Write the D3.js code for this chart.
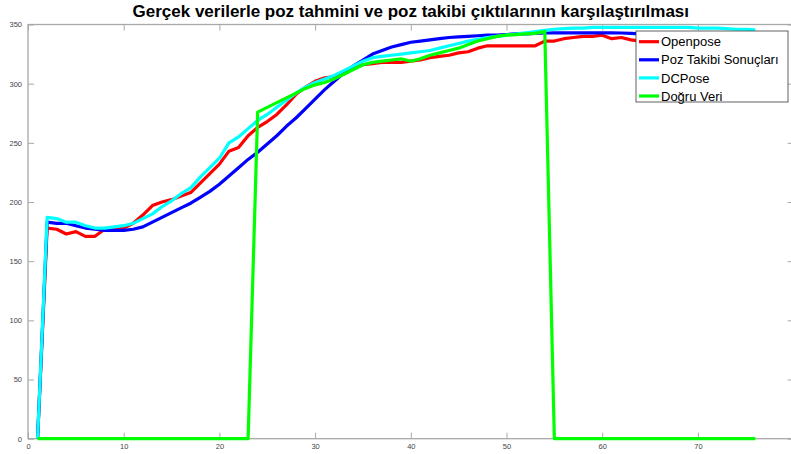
<!DOCTYPE html>
<html>
<head>
<meta charset="utf-8">
<script src="https://cdn.jsdelivr.net/npm/d3@7/dist/d3.min.js"></script>
<style>
  html, body { margin: 0; padding: 0; background: #fff; }
  svg { display: block; font-family: "Liberation Sans", Arial, sans-serif; }
</style>
</head>
<body>
<svg id="chart" width="791" height="454"></svg>
<script>
// Frame numbers (x axis)
const frames = [
  1, 2, 3, 4, 5, 6, 7, 8, 9, 10, 11, 12, 13, 14, 15, 16, 17, 18, 19, 20,
  21, 22, 23, 24, 25, 26, 27, 28, 29, 30, 31, 32, 33, 34, 35, 36, 37, 38, 39, 40,
  41, 42, 43, 44, 45, 46, 47, 48, 49, 50, 51, 52, 53, 54, 55, 56, 57, 58, 59, 60,
  61, 62, 63, 64, 65, 66, 67, 68, 69, 70, 71, 72, 73, 74, 75, 76
];

// Openpose estimates
const openpose = [
  0, 178, 177, 173, 175, 171, 171, 177, 177, 178, 182, 189, 197, 200, 202, 205, 208, 216, 224, 232,
  243, 246, 256, 263, 268, 274, 282, 291, 297, 302, 305, 306, 308, 313, 316, 317, 318, 318, 318, 319,
  320, 322, 323, 324, 326, 327, 330, 332, 332, 332, 332, 332, 332, 336, 336, 338, 339, 340, 340, 341,
  338, 339, 337, 336, 337, 338, 338, 337, 338, 338, 337, 338, 338, 337, 338, 338
];

// Pose tracking results
const tracking = [
  0, 183, 182, 182, 180, 178, 177, 176, 176, 176, 177, 179, 183, 187, 191, 195, 199, 204, 209, 215,
  222, 229, 236, 242, 249, 256, 264, 271, 279, 287, 295, 302, 309, 315, 320, 325, 328, 331, 333, 335,
  336, 337, 338, 339, 339.5, 340, 340.5, 341, 341, 341.5, 342, 342, 342.5, 342.8, 343, 343, 343, 343, 343, 343,
  343, 342.8, 342.5, 342, 342, 342, 341.5, 341.5, 341, 341, 341, 341, 340.5, 340.5, 340, 340
];

// DCPose estimates
const dcpose = [
  0, 187, 186, 183, 183, 180, 178, 178, 179, 180, 182, 186, 190, 196, 201, 207, 212, 221, 229, 237,
  250, 255, 262, 269, 274, 280, 286, 292, 297, 301, 304, 307, 311, 315, 319, 322, 323, 324, 325, 326,
  327, 328, 330, 332, 334, 336, 337.5, 339, 340, 341, 342, 343, 344, 345, 346, 346.5, 347, 347, 347.5, 347.5,
  347.5, 347.5, 347.5, 347.5, 347.5, 347.5, 347.5, 347.5, 347.5, 347, 347, 347, 346.5, 346, 346, 345.5
];

// Ground truth
const groundTruth = [
  0, 0, 0, 0, 0, 0, 0, 0, 0, 0, 0, 0, 0, 0, 0, 0, 0, 0, 0, 0,
  0, 0, 0, 276, 280, 284, 288, 292, 296, 299, 301, 304, 308, 312, 316, 318, 319, 320, 321, 319,
  321, 324, 326, 328, 330, 333, 336, 338, 340, 341, 341.5, 342, 342.5, 344, 0, 0, 0, 0, 0, 0,
  0, 0, 0, 0, 0, 0, 0, 0, 0, 0, 0, 0, 0, 0, 0, 0
];

const seriesNames = ["Openpose", "Poz Takibi Sonuçları", "DCPose", "Doğru Veri"];
const seriesColors = ["#ff0000", "#0000ff", "#00ffff", "#00ff00"];
const seriesValues = [openpose, tracking, dcpose, groundTruth];

const xTicks = [0, 10, 20, 30, 40, 50, 60, 70];
const yTicks = [0, 50, 100, 150, 200, 250, 300, 350];
const titleText = "Gerçek verilerle poz tahmini ve poz takibi çıktılarının karşılaştırılması";

const svg = d3.select("#chart");
const plotLeft = 28, plotRight = 793.6, plotTop = 24.5, plotBottom = 438.7;

const x = d3.scaleLinear().domain([0, 80]).range([plotLeft, plotRight]);
const y = d3.scaleLinear().domain([0, 350]).range([plotBottom, plotTop]);

const axisColor = "#a8a8a8";
const labelColor = "#444";
const tickLen = 6;

// Axis box
svg.append("rect")
  .attr("x", plotLeft).attr("y", plotTop)
  .attr("width", plotRight - plotLeft).attr("height", plotBottom - plotTop)
  .attr("fill", "none").attr("stroke", axisColor).attr("stroke-width", 1.3);

// Bottom axis with inward ticks
const xAxis = d3.axisBottom(x).tickValues(xTicks).tickSizeInner(-tickLen).tickSizeOuter(0).tickPadding(5);
const gx = svg.append("g").attr("transform", `translate(0,${plotBottom})`).call(xAxis);
gx.select(".domain").remove();
gx.selectAll(".tick line").attr("stroke", axisColor);
gx.selectAll(".tick text").attr("font-size", 7.5).attr("fill", labelColor);

// Top axis ticks
const xTop = d3.axisTop(x).tickValues(xTicks).tickSizeInner(-tickLen).tickSizeOuter(0).tickFormat("");
const gxt = svg.append("g").attr("transform", `translate(0,${plotTop})`).call(xTop);
gxt.select(".domain").remove();
gxt.selectAll(".tick line").attr("stroke", axisColor);

// Left axis with inward ticks
const yAxis = d3.axisLeft(y).tickValues(yTicks).tickSizeInner(-tickLen).tickSizeOuter(0).tickPadding(6);
const gy = svg.append("g").attr("transform", `translate(${plotLeft},0)`).call(yAxis);
gy.select(".domain").remove();
gy.selectAll(".tick line").attr("stroke", axisColor);
gy.selectAll(".tick text").attr("font-size", 7.5).attr("fill", labelColor);

// Right axis ticks
const yRight = d3.axisRight(y).tickValues(yTicks).tickSizeInner(-tickLen).tickSizeOuter(0).tickFormat("");
const gyr = svg.append("g").attr("transform", `translate(${plotRight},0)`).call(yRight);
gyr.select(".domain").remove();
gyr.selectAll(".tick line").attr("stroke", axisColor);

// Series lines
const line = d3.line()
  .x(d => x(d[0]))
  .y(d => y(d[1]));

seriesValues.forEach((vals, k) => {
  svg.append("path")
    .datum(frames.map((f, i) => [f, vals[i]]))
    .attr("fill", "none")
    .attr("stroke", seriesColors[k])
    .attr("stroke-width", 3.2)
    .attr("stroke-linejoin", "round")
    .attr("d", line);
});

// Title
svg.append("text")
  .attr("x", (plotLeft + plotRight) / 2)
  .attr("y", 17)
  .attr("text-anchor", "middle")
  .attr("font-size", 17)
  .attr("font-weight", "bold")
  .attr("fill", "#000")
  .text(titleText);

// Legend
const legend = svg.append("g").attr("transform", "translate(636,31)");
legend.append("rect")
  .attr("width", 152).attr("height", 71)
  .attr("fill", "#fff").attr("stroke", "#3a3a3a").attr("stroke-width", 0.8);
seriesNames.forEach((name, k) => {
  const ly = 10.7 + k * 18.1;
  legend.append("line")
    .attr("x1", 3).attr("x2", 23).attr("y1", ly).attr("y2", ly)
    .attr("stroke", seriesColors[k]).attr("stroke-width", 3.2);
  legend.append("text")
    .attr("x", 25).attr("y", ly + 4.6)
    .attr("font-size", 13).attr("fill", "#000")
    .text(name);
});
</script>
</body>
</html>
